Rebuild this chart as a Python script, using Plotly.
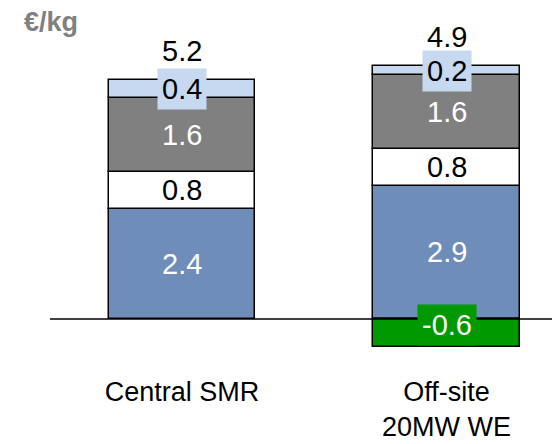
import plotly.graph_objects as go

categories = ["Central SMR", "Off-site<br>20MW WE"]
series_names = ["Component A", "Component B", "Component C", "Component D", "Credit"]
values_blue = [2.4, 2.9]
values_white = [0.8, 0.8]
values_gray = [1.6, 1.6]
values_light = [0.4, 0.2]
values_green = [None, -0.6]
unit_label = "€/kg"

series = [values_blue, values_white, values_gray, values_light, values_green]
fills = ["#6E8DB9", "#FFFFFF", "#808080", "#C6D9F1", "#009900"]
text_colors = ["white", "black", "white", "black", "white"]
boxed = [False, False, False, True, True]

FONT = "Arial, Liberation Sans, sans-serif"
xpos = list(range(len(categories)))

# page body has an 8px default margin; figure sized to fit the 560x444 window
W, H = 552, 436
L, B, T = 42, 84, 0
plot_h = H - T - B

fig = go.Figure()
for name, vals, col in zip(series_names, series, fills):
    fig.add_trace(go.Bar(
        x=xpos, y=vals, name=name, width=0.555,
        marker=dict(color=col, line=dict(color="black", width=1.5)),
        showlegend=False, hoverinfo="skip",
    ))

annotations = []
pos_base = [0.0] * len(categories)
neg_base = [0.0] * len(categories)
for vals, tcol, col, bx in zip(series, text_colors, fills, boxed):
    for i, v in enumerate(vals):
        if v is None:
            continue
        if v >= 0:
            mid = pos_base[i] + v / 2
            pos_base[i] += v
        else:
            mid = neg_base[i] + v / 2
            neg_base[i] += v
        ann = dict(x=xpos[i], y=mid, xref="x", yref="y", text=f"{v:.1f}",
                   showarrow=False, font=dict(family=FONT, size=29, color=tcol))
        if bx:
            ann.update(bgcolor=col, borderpad=4, yshift=8 if v < 0 else 0)
        annotations.append(ann)

for i in range(len(categories)):
    total = pos_base[i] + neg_base[i]
    annotations.append(dict(x=xpos[i], y=pos_base[i], xref="x", yref="y",
                            text=f"{total:.1f}", showarrow=False, yshift=29,
                            font=dict(family=FONT, size=29, color="black")))

annotations.append(dict(x=(43 - L) / (W - L), y=(plot_h - 14) / plot_h,
                        xref="paper", yref="paper", xanchor="center", yanchor="middle",
                        text="<b>" + unit_label + "</b>", showarrow=False,
                        font=dict(family=FONT, size=27, color="#808080")))

zero_px = 311  # figure pixel row of value 0
px_per_unit = 46
fig.update_layout(
    width=W, height=H,
    margin=dict(l=L, r=0, t=T, b=B, autoexpand=False),
    paper_bgcolor="white", plot_bgcolor="white",
    barmode="relative", bargap=0,
    annotations=annotations,
    shapes=[dict(type="line", xref="paper", yref="y", x0=0, x1=1, y0=0, y1=0,
                 line=dict(color="black", width=1.5), layer="above")],
    xaxis=dict(range=[-0.499, 1.429], tickvals=xpos, ticktext=categories,
               showline=False, showgrid=False, zeroline=False, ticks="",
               ticklabelstandoff=13,
               tickfont=dict(family=FONT, size=27, color="black")),
    yaxis=dict(range=[-(plot_h - zero_px) / px_per_unit, zero_px / px_per_unit],
               visible=False, showgrid=False, zeroline=False),
)

fig.write_html("out.html")
